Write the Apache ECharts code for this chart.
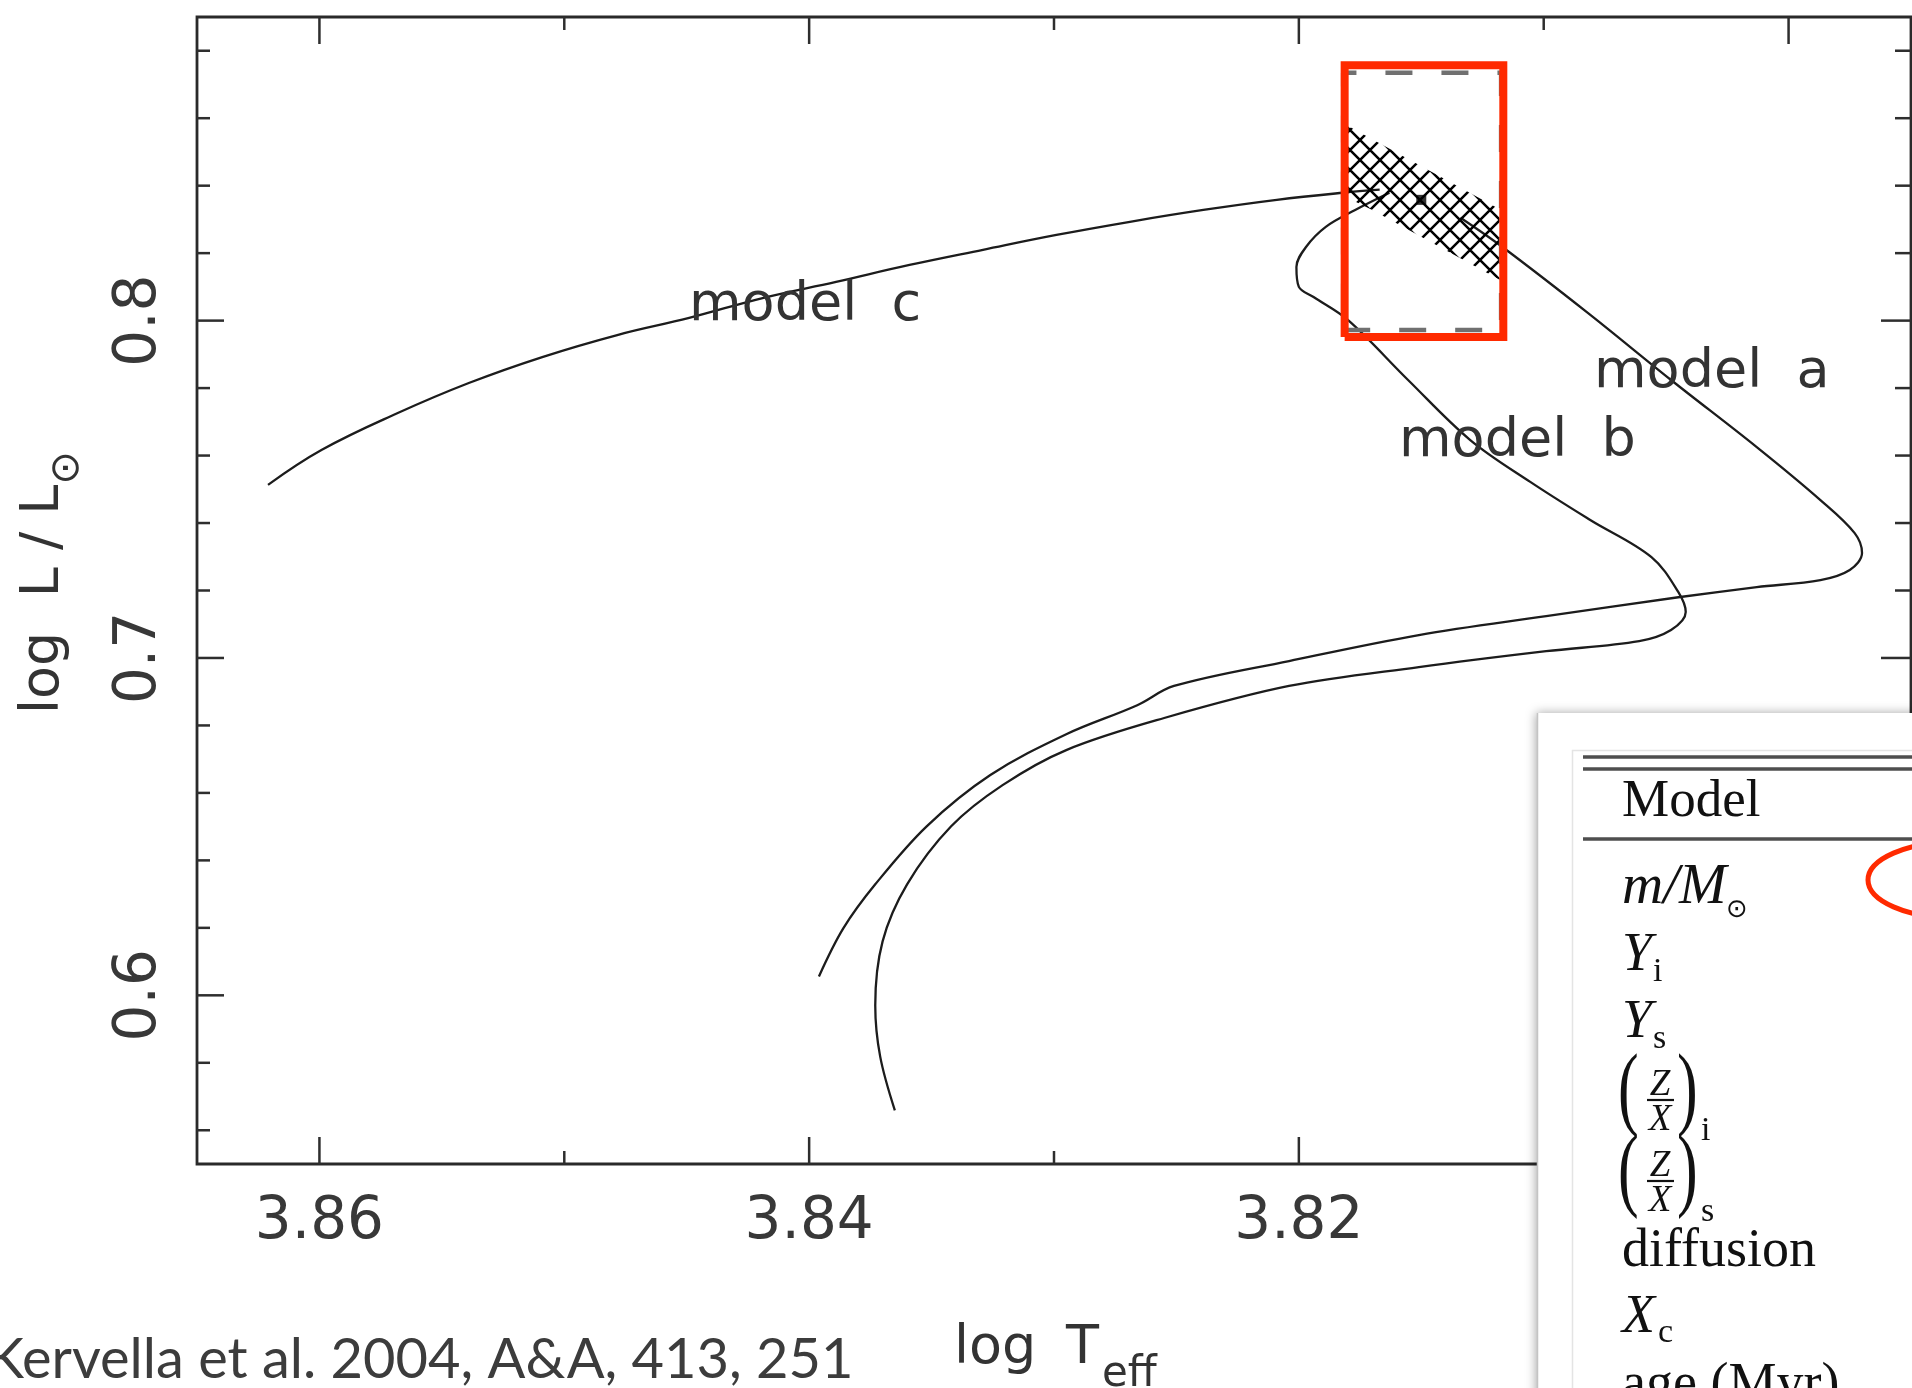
<!DOCTYPE html>
<html><head><meta charset="utf-8">
<script src="https://cdn.jsdelivr.net/npm/echarts@6/dist/echarts.min.js"></script>
<style>html,body{margin:0;padding:0;background:#fff;}#c{width:1912px;height:1388px;}</style>
</head><body><div id="c"></div>
<script>
// ---------------- data ----------------
const modelA_logT = [3.8396,3.8386,3.8373,3.8352,3.8326,3.8295,3.8266,3.8251,3.8204,3.8151,3.8099,3.8045,3.8013,3.7987,3.7975,3.7970,3.7973,3.7987,3.8013,3.8048,3.8082,3.8117,3.8134];
const modelA_logL = [0.6056,0.6199,0.6329,0.6501,0.6653,0.6774,0.6860,0.6917,0.6991,0.7068,0.7124,0.7180,0.7210,0.7231,0.7261,0.7311,0.7370,0.7468,0.7625,0.7824,0.8023,0.8219,0.8305];
const modelB_logT = [3.8365,3.8371,3.8373,3.8370,3.8360,3.8342,3.8321,3.8295,3.8255,3.8204,3.8151,3.8099,3.8061,3.8048,3.8042,3.8045,3.8056,3.8081,3.81055,3.8130,3.81554,3.8180,3.8194,3.8200,3.8201,3.8197,3.8189,3.8177,3.8163];
const modelB_logL = [0.5659,0.5819,0.5970,0.6160,0.6329,0.6501,0.6623,0.6727,0.6822,0.6917,0.6973,0.7020,0.7050,0.7083,0.7136,0.7195,0.7299,0.7409,0.7522,0.7646,0.7824,0.8002,0.8070,0.8100,0.8159,0.8219,0.8278,0.8328,0.8379];
const modelC_logT = [3.8621,3.8599,3.8568,3.8539,3.8509,3.8478,3.8449,3.8419,3.8389,3.8359,3.8329,3.8299,3.8269,3.8239,3.8209,3.8182,3.8167];
const modelC_logL = [0.7513,0.7617,0.7726,0.7815,0.7892,0.7958,0.8008,0.8067,0.8115,0.8165,0.8210,0.8254,0.8293,0.8328,0.8358,0.8379,0.8388];

const hatch_logT = [3.8181,3.8118,3.8118,3.8170,3.8181];
const hatch_logL = [0.8581,0.8330,0.8121,0.8328,0.8367];
const dashBox_logT = [3.81819,3.81174];
const dashBox_logL = [0.7972,0.8735];
const redBox_logT = [3.81813,3.81165];
const redBox_logL = [0.79517,0.87569];
const star_logT = [3.8150];
const star_logL = [0.8358];

const xRange = [3.795, 3.865];
const yRange = [0.55, 0.89];
const xTickLabels = [3.86, 3.84, 3.82, 3.80];
const yTickLabels = [0.6, 0.7, 0.8];
const xMajorTicks = [3.80, 3.82, 3.84, 3.86];
const xMinorTicks = [3.81, 3.83, 3.85];
const yMajorTicks = [0.6, 0.7, 0.8];
const yMinorTicks = [0.56,0.58,0.62,0.64,0.66,0.68,0.72,0.74,0.76,0.78,0.82,0.84,0.86,0.88];

const modelNames = ['model  a', 'model  b', 'model  c'];
const tableRowLabels = ['Model', 'diffusion', 'age (Myr)'];
const citation = 'Kervella et al. 2004, A&A, 413, 251';

// ---------------- helpers ----------------
const zip = (a, b) => a.map((v, i) => [v, b[i]]);
const boxPath = (t, l) => [[t[0],l[0]],[t[1],l[0]],[t[1],l[1]],[t[0],l[1]],[t[0],l[0]]];

function hatchPattern() {
  const s = 20, c = document.createElement('canvas');
  c.width = s; c.height = s;
  const g = c.getContext('2d');
  g.strokeStyle = '#000'; g.lineWidth = 2.5;
  g.beginPath();
  for (let k = -1; k <= 1; k++) { g.moveTo(-2, -2 + k*s); g.lineTo(s+2, s+2 + k*s); }
  for (let k = 0; k <= 2; k++) { g.moveTo(-2, k*s + 2); g.lineTo(s+2, k*s - s - 2); }
  g.stroke();
  return c;
}
const pattern = { image: hatchPattern(), repeat: 'repeat' };

const SANS = 'DejaVu Sans';
const SERIF = 'Liberation Serif';
function txt(x, baseline, text, fs, o) {
  o = o || {};
  const family = o.family || SERIF;
  const k = family === SERIF ? 0.305 : (family === 'Lato' ? 0.32 : 0.297);
  return {
    type: 'text', x: x, y: baseline - k * fs, z: o.z || 103, rotation: o.rotation || 0,
    scaleY: o.scaleY || 1, silent: true,
    style: { text: text, fontSize: fs, fontFamily: family, fontStyle: o.italic ? 'italic' : 'normal',
      fontWeight: 'normal', fill: o.color || '#111', align: o.align || 'left', verticalAlign: 'middle' }
  };
}

// ---------------- tick data ----------------
const tickData = [].concat(
  xMajorTicks.map(v => [0, v, 1]), xMinorTicks.map(v => [0, v, 0]),
  yMajorTicks.map(v => [1, v, 1]), yMinorTicks.map(v => [1, v, 0])
);

// ---------------- graphics (annotations, table overlay) ----------------
const g = [];
g.push(txt(689, 322, modelNames[2], 54, {family: SANS, color: '#333', z: 20}));
g.push(txt(1594, 389, modelNames[0], 54, {family: SANS, color: '#333', z: 20}));
g.push(txt(1399, 458, modelNames[1], 54, {family: SANS, color: '#333', z: 20}));
g.push(txt(954, 1365, 'log', 54, {family: SANS, color: '#333', z: 20}));
g.push(txt(1066, 1365, 'T', 54, {family: SANS, color: '#333', z: 20}));
g.push(txt(1102, 1388, 'eff', 42, {family: SANS, color: '#333', z: 20}));
g.push({type:'text', x: 44, y: 714, rotation: Math.PI/2, z: 20, silent: true,
  style: {text: 'log  L / L', fontFamily: SANS, fontSize: 54, fill: '#333', align: 'left', verticalAlign: 'middle'}});
g.push({type:'text', x: 68, y: 468, rotation: Math.PI/2, z: 20, silent: true,
  style: {text: '⊙', fontFamily: SANS, fontSize: 40, fill: '#333', align: 'center', verticalAlign: 'middle'}});
g.push(txt(-13, 1378, citation, 56, {family: 'Lato', color: '#3c3c3c', z: 20}));

// table overlay panel
g.push({type:'rect', z: 100, silent: true, shape: {x: 1537, y: 713, width: 420, height: 720},
  style: {fill: '#fff', shadowBlur: 10, shadowColor: 'rgba(0,0,0,0.35)', shadowOffsetX: -1}});
g.push({type:'line', z: 101, silent: true, shape: {x1: 1537.5, y1: 713, x2: 1537.5, y2: 1388},
  style: {stroke: '#c4c4c4', lineWidth: 1.5}});
g.push({type:'rect', z: 101, silent: true, shape: {x: 1572.5, y: 750.5, width: 420, height: 700},
  style: {fill: '#fff', stroke: '#e4e4e4', lineWidth: 1.5}});
[757, 769, 839].forEach(y => g.push({type:'line', z: 102, silent: true,
  shape: {x1: 1583, y1: y, x2: 1912, y2: y}, style: {stroke: '#4e4e4e', lineWidth: 3.5}}));
g.push(txt(1622, 818, tableRowLabels[0], 53));
g.push(txt(1622, 905, 'm/M', 57, {italic: true}));
g.push(txt(1726, 918, '⊙', 26, {family: SANS}));
g.push(txt(1622, 972, 'Y', 54, {italic: true}));
g.push(txt(1653, 982, 'i', 34));
g.push(txt(1622, 1039, 'Y', 54, {italic: true}));
g.push(txt(1653, 1049, 's', 34));
function zx(cy, sub) {
  g.push({type:'text', x: 1618, y: cy - 6, scaleY: 1.5, z: 103, silent: true,
    style: {text: '(', fontSize: 62, fontFamily: SERIF, fill: '#111', align: 'left', verticalAlign: 'middle'}});
  g.push({type:'text', x: 1677, y: cy - 6, scaleY: 1.5, z: 103, silent: true,
    style: {text: ')', fontSize: 62, fontFamily: SERIF, fill: '#111', align: 'left', verticalAlign: 'middle'}});
  g.push(txt(1660, cy - 3, 'Z', 37, {italic: true, align: 'center'}));
  g.push({type:'line', z: 103, silent: true, shape: {x1: 1647, y1: cy, x2: 1674, y2: cy}, style: {stroke: '#111', lineWidth: 2.2}});
  g.push(txt(1660, cy + 32, 'X', 37, {italic: true, align: 'center'}));
  g.push(txt(1701, cy + 41, sub, 34));
}
zx(1100, 'i');
zx(1181, 's');
g.push(txt(1622, 1268, tableRowLabels[1], 54));
g.push(txt(1622, 1334, 'X', 54, {italic: true}));
g.push(txt(1658, 1343, 'c', 34));
g.push(txt(1622, 1402, tableRowLabels[2], 54));
g.push({type:'ellipse', z: 104, silent: true, shape: {cx: 1955, cy: 880, rx: 87, ry: 38},
  style: {fill: 'none', stroke: '#ff2a00', lineWidth: 5}});

// ---------------- chart ----------------
const chart = echarts.init(document.getElementById('c'), null, {renderer: 'canvas', width: 1912, height: 1388});
const lineStyleTrack = {color: '#1c1c1c', width: 2.3};
chart.setOption({
  animation: false,
  backgroundColor: '#fff',
  grid: {left: 197, top: 17, width: 1714, height: 1147, show: true, borderColor: '#2a2a2a', borderWidth: 2.8, backgroundColor: 'rgba(0,0,0,0)'},
  xAxis: {type: 'value', min: xRange[0], max: xRange[1], inverse: true,
    axisLine: {show: false}, axisTick: {show: false}, splitLine: {show: false},
    axisLabel: {customValues: xTickLabels, formatter: v => v.toFixed(2), fontFamily: SANS, fontSize: 58, color: '#383838', margin: 30}},
  yAxis: {type: 'value', min: yRange[0], max: yRange[1],
    axisLine: {show: false}, axisTick: {show: false}, splitLine: {show: false},
    axisLabel: {customValues: yTickLabels, rotate: 90, formatter: v => v.toFixed(1), fontFamily: SANS, fontSize: 58, color: '#383838', margin: 28}},
  graphic: {elements: g},
  series: [
    {type: 'custom', name: 'ticks', data: tickData, z: 4, silent: true, clip: false,
      renderItem: function (params, api) {
        const cs = params.coordSys;
        const ax = api.value(0), v = api.value(1), major = api.value(2);
        const len = major ? 27 : 13;
        const st = {stroke: '#2e2e2e', lineWidth: 2.5};
        if (ax === 0) {
          const px = api.coord([v, yRange[0]])[0];
          return {type: 'group', children: [
            {type: 'line', shape: {x1: px, y1: cs.y + cs.height, x2: px, y2: cs.y + cs.height - len}, style: st},
            {type: 'line', shape: {x1: px, y1: cs.y, x2: px, y2: cs.y + len}, style: st}]};
        }
        const py = api.coord([xRange[0], v])[1];
        return {type: 'group', children: [
          {type: 'line', shape: {x1: cs.x, y1: py, x2: cs.x + len, y2: py}, style: st},
          {type: 'line', shape: {x1: cs.x + cs.width, y1: py, x2: cs.x + cs.width - len - 3, y2: py}, style: st}]};
      }},
    {type: 'line', name: 'model c', data: zip(modelC_logT, modelC_logL), showSymbol: false, symbol: 'none', smooth: 0.4, lineStyle: lineStyleTrack, z: 3, silent: true},
    {type: 'line', name: 'model b', data: zip(modelB_logT, modelB_logL), showSymbol: false, symbol: 'none', smooth: 0.35, lineStyle: lineStyleTrack, z: 3, silent: true},
    {type: 'line', name: 'model a', data: zip(modelA_logT, modelA_logL), showSymbol: false, symbol: 'none', smooth: 0.35, lineStyle: lineStyleTrack, z: 3, silent: true},
    {type: 'custom', name: 'error box', data: [0], z: 5, silent: true,
      renderItem: function (params, api) {
        const pts = hatch_logT.map((t, i) => api.coord([t, hatch_logL[i]]));
        return {type: 'polygon', shape: {points: pts}, style: {fill: pattern, stroke: null}};
      }},
    {type: 'line', name: 'dashed box', data: boxPath(dashBox_logT, dashBox_logL), showSymbol: false, symbol: 'none',
      lineStyle: {color: '#707070', width: 4.5, type: [27, 29]}, z: 6, silent: true},
    {type: 'scatter', name: 'star', data: zip(star_logT, star_logL), symbol: 'rect', symbolSize: 10, itemStyle: {color: '#000'}, z: 7, silent: true},
    {type: 'line', name: 'highlight', data: boxPath(redBox_logT, redBox_logL), showSymbol: false, symbol: 'none',
      lineStyle: {color: '#ff2a00', width: 8, join: 'miter'}, z: 8, silent: true}
  ]
});
</script>
</body></html>
